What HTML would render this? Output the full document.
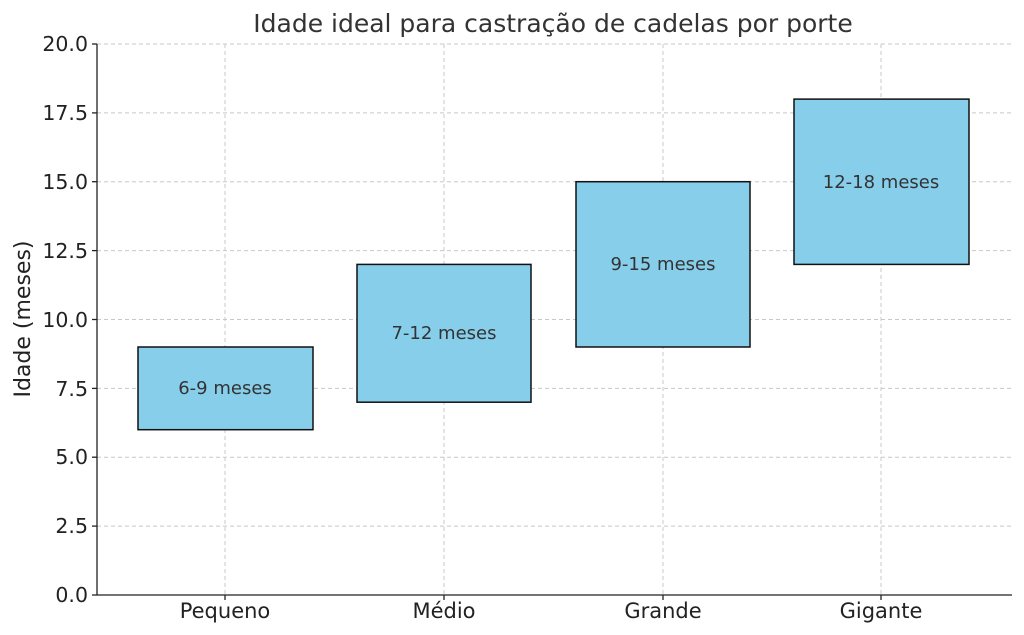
<!DOCTYPE html>
<html><head><meta charset="utf-8"><style>
html,body{margin:0;padding:0;background:#fff;}
svg{display:block;font-family:"DejaVu Sans","Liberation Sans",sans-serif;}
</style></head><body>
<svg width="1024" height="635" viewBox="0 0 1024 635">
<rect width="1024" height="635" fill="#fff"/>
<g stroke="#c8c8c8" stroke-width="1" stroke-dasharray="4,3">
<line x1="97" y1="44" x2="1012" y2="44"/>
<line x1="97" y1="112.9" x2="1012" y2="112.9"/>
<line x1="97" y1="181.7" x2="1012" y2="181.7"/>
<line x1="97" y1="250.6" x2="1012" y2="250.6"/>
<line x1="97" y1="319.5" x2="1012" y2="319.5"/>
<line x1="97" y1="388.4" x2="1012" y2="388.4"/>
<line x1="97" y1="457.2" x2="1012" y2="457.2"/>
<line x1="97" y1="526.1" x2="1012" y2="526.1"/>
<line x1="225" y1="44" x2="225" y2="595"/>
<line x1="444" y1="44" x2="444" y2="595"/>
<line x1="663" y1="44" x2="663" y2="595"/>
<line x1="881" y1="44" x2="881" y2="595"/>
</g>
<g fill="#87ceeb" stroke="#111" stroke-width="1.5">
<rect x="138" y="347" width="175" height="82.7"/>
<rect x="357" y="264.4" width="174" height="137.8"/>
<rect x="576" y="181.7" width="174" height="165.3"/>
<rect x="794" y="99.1" width="175" height="165.3"/>
</g>
<g font-size="18" fill="#333" text-anchor="middle">
<text x="225" y="394">6-9 meses</text>
<text x="444" y="339">7-12 meses</text>
<text x="663" y="270">9-15 meses</text>
<text x="881" y="188">12-18 meses</text>
</g>
<g stroke="#222" stroke-width="1.3">
<line x1="97" y1="44" x2="97" y2="595"/>
<line x1="97" y1="595" x2="1012" y2="595"/>
<line x1="92" y1="44" x2="97" y2="44"/><line x1="92" y1="112.9" x2="97" y2="112.9"/>
<line x1="92" y1="181.7" x2="97" y2="181.7"/><line x1="92" y1="250.6" x2="97" y2="250.6"/>
<line x1="92" y1="319.5" x2="97" y2="319.5"/><line x1="92" y1="388.4" x2="97" y2="388.4"/>
<line x1="92" y1="457.2" x2="97" y2="457.2"/><line x1="92" y1="526.1" x2="97" y2="526.1"/>
<line x1="92" y1="595" x2="97" y2="595"/>
<line x1="225" y1="595" x2="225" y2="600"/><line x1="444" y1="595" x2="444" y2="600"/>
<line x1="663" y1="595" x2="663" y2="600"/><line x1="881" y1="595" x2="881" y2="600"/>
</g>
<g font-size="20.5" fill="#222" text-anchor="end">
<text x="88" y="51">20.0</text><text x="88" y="120">17.5</text>
<text x="88" y="189">15.0</text><text x="88" y="258">12.5</text>
<text x="88" y="327">10.0</text><text x="88" y="396">7.5</text>
<text x="88" y="464">5.0</text><text x="88" y="533">2.5</text>
<text x="88" y="602">0.0</text>
</g>
<g font-size="21" fill="#222" text-anchor="middle">
<text x="225" y="618">Pequeno</text><text x="444" y="618">Médio</text>
<text x="663" y="618">Grande</text><text x="881" y="618">Gigante</text>
<text x="553" y="32" font-size="25" fill="#333">Idade ideal para castração de cadelas por porte</text>
<text transform="translate(30,319) rotate(-90)" font-size="22">Idade (meses)</text>
</g>
</svg>
</body></html>
